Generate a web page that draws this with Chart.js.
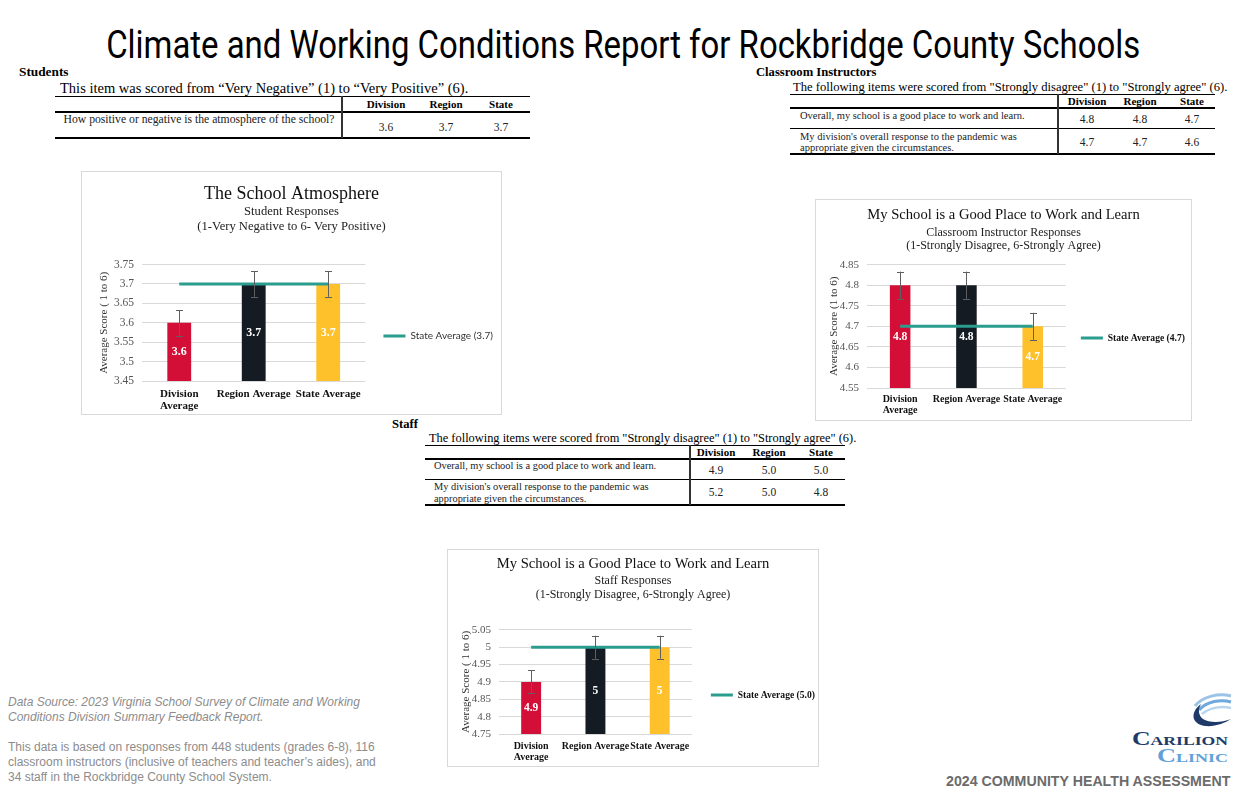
<!DOCTYPE html>
<html>
<head>
<meta charset="utf-8">
<script src="https://cdn.jsdelivr.net/npm/chart.js@4.4.1/dist/chart.umd.min.js"></script>
<style>
  html, body { margin:0; padding:0; background:#fff; }
  body { width:1247px; height:807px; position:relative; overflow:hidden; font-family:"Liberation Serif", serif; color:#000; }
  .abs { position:absolute; white-space:nowrap; }
  .box { position:absolute; border:1px solid #d9d9d9; box-sizing:border-box; background:#fff; }
  .box canvas { display:block; }
  .hl { position:absolute; background:#000; }
  #pageTitle { position:absolute; left:0; top:25px; width:1247px; text-align:center; font-family:Roboto, sans-serif; font-size:38px; line-height:40px; }
  #pageTitle span { display:inline-block; transform-origin:center; }
  .foot { position:absolute; left:8px; font-family:"Liberation Sans", Arial, sans-serif; font-size:12px; line-height:15px; color:#8c8c8c; white-space:nowrap; }
  .logo { position:absolute; font-family:'Liberation Serif', serif; font-weight:bold; font-size:19px; line-height:20px; font-variant:small-caps; white-space:nowrap; transform-origin:left center; }
</style>
</head>
<body>
<div id="pageTitle"><span id="ptSpan">Climate and Working Conditions Report for Rockbridge County Schools</span></div>

<div class="box" style="left:81px; top:171px; width:421px; height:244px;"><canvas id="c1"></canvas></div>
<div class="box" style="left:815px; top:199px; width:377px; height:222px;"><canvas id="c2"></canvas></div>
<div class="box" style="left:447px; top:549px; width:372px; height:218px;"><canvas id="c3"></canvas></div>

<div class="foot" style="top:695px; font-style:italic;">Data Source: 2023 Virginia School Survey of Climate and Working<br>Conditions Division Summary Feedback Report.</div>
<div class="foot" style="top:740px;">This data is based on responses from 448 students (grades 6-8), 116<br>classroom instructors (inclusive of teachers and teacher’s aides), and<br>34 staff in the Rockbridge County School System.</div>

<svg class="abs" style="left:1187px; top:692px;" width="46" height="38" viewBox="0 0 46 38">
  <path d="M8,14 C16,4 32,1 44,4" stroke="#9cc3e6" stroke-width="3" fill="none"/>
  <path d="M12,18 C20,9 34,7 44,10" stroke="#6fa8dc" stroke-width="3" fill="none"/>
  <path d="M15,22 C23,15 35,14 44,16" stroke="#b9d5ee" stroke-width="2.5" fill="none"/>
  <path d="M14,12 C3,20 4,32 18,34 C28,35 38,31 44,27 C34,31 22,31 16,27 C11,23 11,17 14,12 Z" fill="#1f3a68"/>
</svg>
<div class="logo" id="logo1" style="left:1132px; top:729px; color:#1f3a68;">Carilion</div>
<div class="logo" id="logo2" style="left:1157px; top:746px; color:#62a0d8;">Clinic</div>
<div class="abs" style="left:946px; top:773px; font-family:'Liberation Sans', Arial, sans-serif; font-weight:bold; font-size:14.2px; line-height:16px; color:#6b6b6b;">2024 COMMUNITY HEALTH ASSESSMENT</div>

<script>
// ---------------- DATA ----------------
const categories = [["Division", "Average"], "Region Average", "State Average"];

const studentValues = [3.6, 3.7, 3.7];
const studentValueLabels = ["3.6", "3.7", "3.7"];
const studentStateLine = [3.7, 3.7, 3.7];
const studentErrors = [0.033, 0.033, 0.033];
const studentTicks = ["3.45", "3.5", "3.55", "3.6", "3.65", "3.7", "3.75"];

const instructorValues = [4.8, 4.8, 4.7];
const instructorValueLabels = ["4.8", "4.8", "4.7"];
const instructorStateLine = [4.7, 4.7, 4.7];
const instructorErrors = [0.033, 0.033, 0.033];
const instructorTicks = ["4.55", "4.6", "4.65", "4.7", "4.75", "4.8", "4.85"];

const staffValues = [4.9, 5.0, 5.0];
const staffValueLabels = ["4.9", "5", "5"];
const staffStateLine = [5.0, 5.0, 5.0];
const staffErrors = [0.033, 0.033, 0.033];
const staffTicks = ["4.75", "4.8", "4.85", "4.9", "4.95", "5", "5.05"];

const tableHeaders = ["Division", "Region", "State"];
const studentItems = ["How positive or negative is the atmosphere of the school?"];
const studentTable = [["3.6", "3.7", "3.7"]];
const instructorItems = [["Overall, my school is a good place to work and learn."],
                         ["My division's overall response to the pandemic was", "appropriate given the circumstances."]];
const instructorTable = [["4.8", "4.8", "4.7"], ["4.7", "4.7", "4.6"]];
const staffItems = [["Overall, my school is a good place to work and learn."],
                    ["My division's overall response to the pandemic was", "appropriate given the circumstances."]];
const staffTable = [["4.9", "5.0", "5.0"], ["5.2", "5.0", "4.8"]];

// ---------------- PAGE TEXT / TABLES ----------------
const SERIF = '"Liberation Serif", "Times New Roman", serif';
function addText(x, yc, text, style, align) {
  const d = document.createElement('div');
  d.className = 'abs';
  d.textContent = text;
  d.style.fontFamily = SERIF;
  d.style.lineHeight = '16px';
  d.style.top = (yc - 8) + 'px';
  Object.assign(d.style, style || {});
  d.style.left = x + 'px';
  if (align === 'center') d.style.transform = 'translateX(-50%)';
  document.body.appendChild(d);
  return d;
}
function hLine(x0, x1, y, h) {
  const d = document.createElement('div'); d.className = 'hl';
  d.style.left = x0 + 'px'; d.style.width = (x1 - x0) + 'px'; d.style.top = (y - h / 2) + 'px'; d.style.height = h + 'px';
  document.body.appendChild(d);
}
function vLine(x, y0, y1, w) {
  const d = document.createElement('div'); d.className = 'hl';
  d.style.left = (x - w / 2) + 'px'; d.style.width = w + 'px'; d.style.top = y0 + 'px'; d.style.height = (y1 - y0) + 'px';
  d.style.background = '#333';
  document.body.appendChild(d);
}
function drawTable(t) {
  addText(t.labelX, t.labelY, t.label, { fontWeight: 'bold', fontSize: t.labelSize });
  addText(t.capX, t.capY, t.caption, { fontSize: t.capSize });
  hLine(t.x0, t.x1, t.top, 1);
  t.colX.forEach((cx, i) => addText(cx, t.headerY, tableHeaders[i], { fontWeight: 'bold', fontSize: '11px' }, 'center'));
  hLine(t.x0, t.x1, t.thick, 2.2);
  t.rows.forEach((r, ri) => {
    const lines = t.items[ri];
    const arr = Array.isArray(lines) ? lines : [lines];
    arr.forEach((ln, li) => {
      addText(t.itemX, r.ys[li], ln, { fontSize: t.itemSize, color: '#222' }, t.itemAlign === 'center' ? 'center' : 'left');
    });
    t.values[ri].forEach((v, ci) => addText(t.colX[ci], r.valY, v, { fontSize: '11.5px', color: '#222' }, 'center'));
    if (r.lineY) hLine(t.x0, t.x1, r.lineY, 1);
  });
  hLine(t.x0, t.x1, t.bottom, 1.6);
  vLine(t.sep, t.top, t.bottom, 1.6);
}
drawTable({ label: 'Students', labelX: 19, labelY: 72, labelSize: '13.3px', caption: 'This item was scored from “Very Negative” (1) to “Very Positive” (6).',
  capX: 60, capY: 88, capSize: '14.5px', x0: 55, x1: 530, sep: 342, top: 96, headerY: 104, thick: 112,
  colX: [386, 446, 501], items: studentItems, values: studentTable, itemAlign: 'center', itemX: 199, itemSize: '11.7px',
  rows: [{ ys: [120], valY: 127 }], bottom: 138 });
drawTable({ label: 'Classroom Instructors', labelX: 756, labelY: 72, labelSize: '12.6px',
  caption: 'The following items were scored from "Strongly disagree" (1) to "Strongly agree" (6).',
  capX: 793, capY: 87, capSize: '12.6px', x0: 790, x1: 1215, sep: 1058, top: 94, headerY: 101, thick: 108,
  colX: [1087, 1140, 1192], items: instructorItems, values: instructorTable, itemAlign: 'left', itemX: 800, itemSize: '10.5px',
  rows: [{ ys: [116], valY: 119, lineY: 128 }, { ys: [137, 148], valY: 142 }], bottom: 154 });
drawTable({ label: 'Staff', labelX: 392, labelY: 424, labelSize: '12.6px',
  caption: 'The following items were scored from "Strongly disagree" (1) to "Strongly agree" (6).',
  capX: 429, capY: 438, capSize: '12.4px', x0: 425, x1: 845, sep: 690, top: 445, headerY: 452, thick: 459,
  colX: [716, 769, 821], items: staffItems, values: staffTable, itemAlign: 'left', itemX: 434, itemSize: '10.4px',
  rows: [{ ys: [466], valY: 470, lineY: 479 }, { ys: [487, 499], valY: 492 }], bottom: 505 });

// fit page title + logo words to their widths
function fitX(id, target) {
  const s = document.getElementById(id);
  const w = s.getBoundingClientRect().width;
  s.style.transform = 'scaleX(' + (target / w) + ')';
}
fitX('ptSpan', 1034);
fitX('logo1', 96);
fitX('logo2', 71);

// ---------------- CHARTS ----------------
const barExtras = {
  id: 'barExtras',
  afterDatasetsDraw(chart) {
    const ctx = chart.ctx;
    const ds = chart.data.datasets[0];
    const meta = chart.getDatasetMeta(0);
    const ys = chart.scales.y;
    const basePx = ys.getPixelForValue(ys.min);
    ctx.save();
    meta.data.forEach((bar, i) => {
      const topPx = ys.getPixelForValue(ds.data[i]);
      ctx.fillStyle = '#ffffff';
      ctx.font = 'bold ' + ds.valueFontSize + 'px "Liberation Serif"';
      ctx.textAlign = 'center';
      ctx.textBaseline = 'middle';
      ctx.fillText(String(ds.valueLabels[i]), bar.x, (topPx + basePx) / 2);
    });
    meta.data.forEach((bar, i) => {
      const top = ys.getPixelForValue(ds.data[i] + ds.errors[i]);
      const bot = ys.getPixelForValue(ds.data[i] - ds.errors[i]);
      ctx.strokeStyle = '#5f5f5f';
      ctx.lineWidth = 1;
      ctx.beginPath();
      const x = Math.round(bar.x) + 0.5;
      ctx.moveTo(x, top); ctx.lineTo(x, bot);
      ctx.moveTo(x - 3.5, Math.round(top) + 0.5); ctx.lineTo(x + 3.5, Math.round(top) + 0.5);
      ctx.moveTo(x - 3.5, Math.round(bot) + 0.5); ctx.lineTo(x + 3.5, Math.round(bot) + 0.5);
      ctx.stroke();
    });
    ctx.restore();
  }
};

function makeChart(id, c) {
  return new Chart(document.getElementById(id), {
    data: {
      labels: categories,
      datasets: [
        { type: 'bar', label: 'Scores', data: c.values, order: 1,
          valueLabels: c.valueLabels, errors: c.errors, valueFontSize: c.valueFontSize,
          backgroundColor: ['#d40f37', '#141b22', '#ffc12b'],
          barPercentage: c.barPct, categoryPercentage: 1 },
        { type: 'line', label: c.legendText, data: c.state, order: 0,
          borderColor: '#2a9d8f', backgroundColor: '#2a9d8f', borderWidth: 3,
          pointRadius: 0, pointHoverRadius: 0, tension: 0 }
      ]
    },
    options: {
      responsive: false, animation: false, devicePixelRatio: 1,
      layout: { padding: { left: c.padRight, right: c.padRight, top: 0, bottom: 0 } },
      plugins: {
        title: { display: true, text: c.title, color: '#111',
          font: { family: SERIF, size: c.titleSize, weight: 'normal', lineHeight: 1.2 },
          padding: { top: c.titleTop, bottom: 0 } },
        subtitle: { display: true, text: c.subtitle, color: '#222',
          font: { family: SERIF, size: c.subSize, weight: 'normal', lineHeight: c.subLH },
          padding: { top: c.subTop, bottom: c.subBottom } },
        legend: { position: 'right', maxWidth: 260,
          title: { display: true, text: ' ', font: { size: 1 }, padding: { top: c.legendShift, bottom: 0 } },
          labels: { filter: (item) => item.datasetIndex === 1, usePointStyle: true, pointStyle: 'line',
            pointStyleWidth: 22, padding: c.legendPad, color: c.legendColor, font: c.legendFont } },
        tooltip: { enabled: false }
      },
      scales: {
        x: { grid: { display: false, drawTicks: false }, border: { display: false },
          ticks: { color: '#111', padding: c.xPad, maxRotation: 0, autoSkip: false,
            font: { family: SERIF, size: c.xFontSize, weight: 'bold', lineHeight: 1.1 } },
          afterFit: (s) => { s.height = c.xHeight; } },
        y: { min: c.min, max: c.max,
          ticks: { stepSize: 0.05, padding: 8, color: '#555',
            font: { family: SERIF, size: c.tickSize },
            callback: (v) => { const t = c.ticks.find(t => Math.abs(parseFloat(t) - v) < 1e-6); return t === undefined ? '' : t; } },
          grid: { color: '#d9d9d9', drawTicks: false }, border: { display: false },
          title: { display: true, text: c.yTitle, color: '#333', font: { family: SERIF, size: 11 }, padding: { top: c.yTitlePad - c.padRight, bottom: 0 } },
          afterFit: (s) => { s.width = c.yWidth - c.padRight; } }
      }
    },
    plugins: [barExtras]
  });
}

function sizeCanvas(id, w, h) { const cv = document.getElementById(id); cv.width = w; cv.height = h; cv.style.width = w + 'px'; cv.style.height = h + 'px'; }
sizeCanvas('c1', 419, 242);
sizeCanvas('c2', 375, 220);
sizeCanvas('c3', 370, 216);

makeChart('c1', {
  values: studentValues, state: studentStateLine, valueLabels: studentValueLabels, errors: studentErrors, ticks: studentTicks,
  min: 3.45, max: 3.75, legendText: 'State Average (3.7)', valueFontSize: 12,
  title: 'The School Atmosphere', titleSize: 18, titleTop: 11,
  subtitle: ['Student Responses', '(1-Very Negative to 6- Very Positive)'], subSize: 12.6, subLH: 1.15, subTop: 0, subBottom: 31,
  legendPad: 18, legendShift: 85, legendColor: '#333', legendFont: { family: 'Lato, "Liberation Sans", sans-serif', size: 10 },
  padRight: -2, xHeight: 33, xPad: 7, xFontSize: 11, yWidth: 60, tickSize: 11.5, yTitle: 'Average Score ( 1 to 6)', yTitlePad: 16, barPct: 0.32
});
makeChart('c2', {
  values: instructorValues, state: instructorStateLine, valueLabels: instructorValueLabels, errors: instructorErrors, ticks: instructorTicks,
  min: 4.55, max: 4.85, legendText: 'State Average (4.7)', valueFontSize: 11.5,
  title: 'My School is a Good Place to Work and Learn', titleSize: 14.6, titleTop: 6,
  subtitle: ['Classroom Instructor Responses', '(1-Strongly Disagree, 6-Strongly Agree)'], subSize: 12, subLH: 1.1, subTop: 2.7, subBottom: 12,
  legendPad: 15, legendShift: 55, legendColor: '#111', legendFont: { family: SERIF, size: 9.6, weight: 'bold' },
  padRight: -4, xHeight: 32, xPad: 6, xFontSize: 10, yWidth: 51, tickSize: 11, yTitle: 'Average Score (1 to 6)', yTitlePad: 12, barPct: 0.31
});
makeChart('c3', {
  values: staffValues, state: staffStateLine, valueLabels: staffValueLabels, errors: staffErrors, ticks: staffTicks,
  min: 4.75, max: 5.05, legendText: 'State Average (5.0)', valueFontSize: 11.5,
  title: 'My School is a Good Place to Work and Learn', titleSize: 14.6, titleTop: 5,
  subtitle: ['Staff Responses', '(1-Strongly Disagree, 6-Strongly Agree)'], subSize: 12, subLH: 1.15, subTop: 1.7, subBottom: 28,
  legendPad: 19, legendShift: 73, legendColor: '#111', legendFont: { family: SERIF, size: 9.6, weight: 'bold' },
  padRight: -7, xHeight: 32, xPad: 6.5, xFontSize: 10, yWidth: 51, tickSize: 11, yTitle: 'Average Score ( 1 to 6)', yTitlePad: 12, barPct: 0.31
});
</script>
</body>
</html>
